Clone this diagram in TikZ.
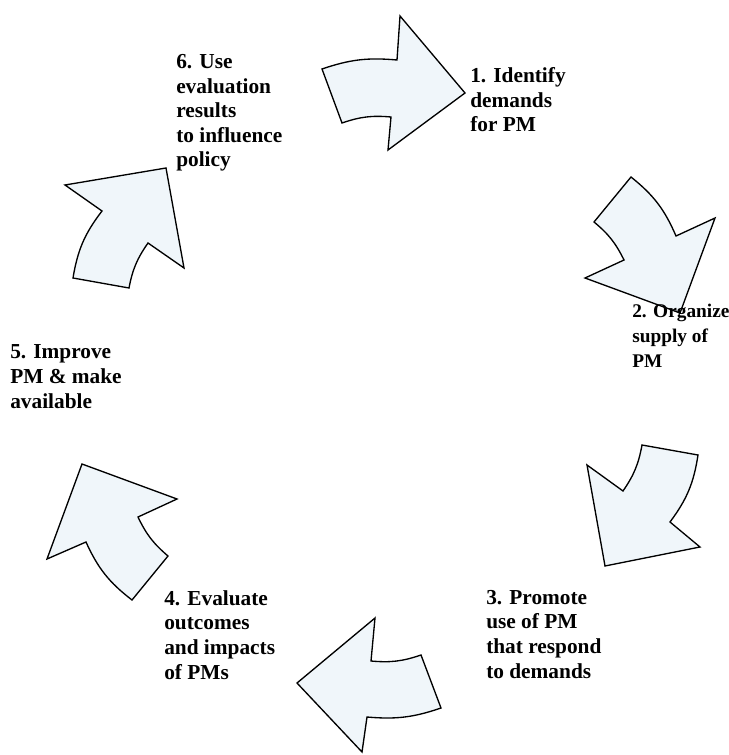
\documentclass[tikz,border=0pt]{standalone}
\usepackage{fontspec}
\setmainfont{Liberation Serif}
\definecolor{pmfill}{RGB}{240,246,250}

\begin{document}
\begin{tikzpicture}[x=0.75pt,y=-0.75pt,
	pmarrow/.style={draw=black,line width=1pt,fill=pmfill,line join=miter},
	steptext/.style={anchor=base west,align=left,inner sep=0pt,font=\fontsize{16}{18.4}\selectfont\bfseries}]
			%%%%% START %%%%%
			
			\useasboundingbox (0,0) rectangle (728,755);
			
			% arrow from 6 to 1
			\draw[pmarrow] (322,69) to[bend left=12] (397,60) -- (400,16) -- (465,93) -- (388,150) -- (391,117) to[bend right=12] (342,123) -- cycle;
			
			% arrow from 1 to 2
			\draw[pmarrow] (631,177) to[bend left=14] (676,236) -- (715,218) -- (680,313) -- (585,278) -- (624,260) to[bend right=12] (594,222) -- cycle;
			
			% arrow from 2 to 3
			\draw[pmarrow] (642,445) -- (698,455) to[bend left=14] (670,522) -- (700,547) -- (605,566) -- (587,465) -- (623,491) to[bend right=12] cycle;
			
			% arrow from 3 to 4
			\draw[pmarrow] (375,618) -- (371,661) to[bend right=12] (421,655) -- (441,708) to[bend left=12] (367,717) -- (362,752) -- (297,683) -- cycle;
			
			% arrow from 4 to 5
			\draw[pmarrow] (82,464) -- (177,499) -- (138,517) to[bend right=12] (168,556) -- (132,600) to[bend left=14] (86,542) -- (47,559) -- cycle;
			
			% arrow from 5 to 6
			\draw[pmarrow] (65,185) -- (166,168) -- (184,268) -- (148,243) to[bend right=12] (129,288) -- (73,278) to[bend left=14] (102,211) -- cycle;
			
			% the six steps (base = last line)
			\node[steptext] (identify) at (470,132) {1. Identify\\demands\\for PM};
			\node[steptext,font=\fontsize{14.5}{18.4}\selectfont\bfseries] (organize) at (632,367) {2. Organize\\supply of\\PM};
			\node[steptext] (promote) at (486,678) {3. Promote\\use of PM\\that respond\\to demands};
			\node[steptext] (evaluate) at (164,679) {4. Evaluate\\outcomes\\and impacts\\of PMs};
			\node[steptext] (improve) at (10,408) {5. Improve\\PM \& make\\available};
			\node[steptext] (influence) at (176,167) {6. Use\\evaluation\\results\\to influence\\policy};
			
			%%%%% END %%%%%
\end{tikzpicture}
\end{document}
